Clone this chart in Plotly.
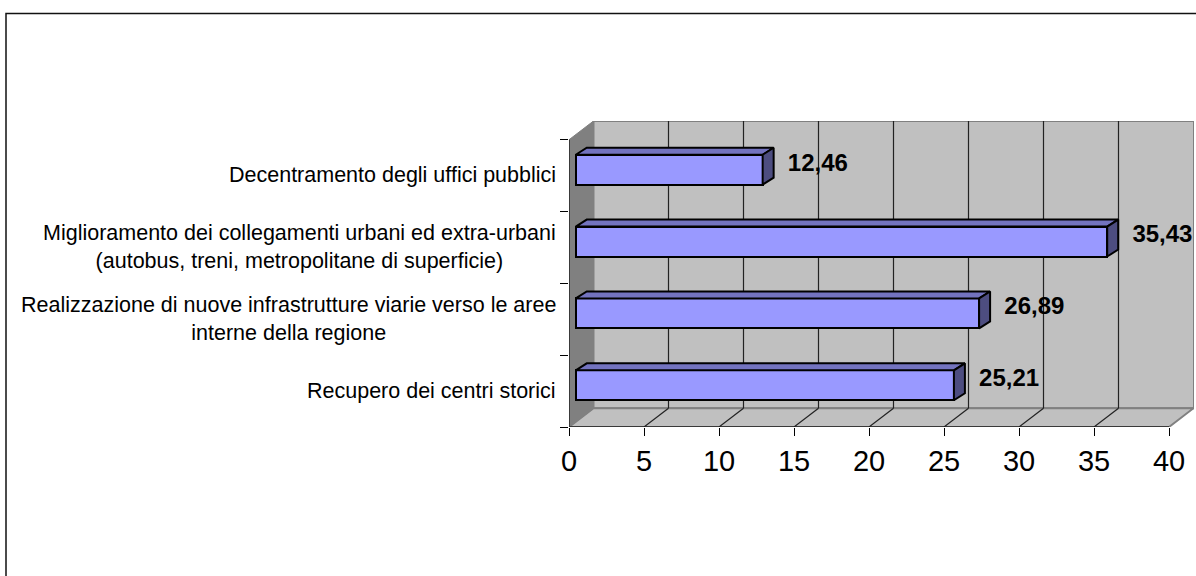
import plotly.graph_objects as go

categories = [
    "Recupero dei centri storici",
    "Realizzazione di nuove infrastrutture viarie verso le aree<br>interne della regione",
    "Miglioramento dei collegamenti urbani ed extra-urbani<br>(autobus, treni, metropolitane di superficie)",
    "Decentramento degli uffici pubblici",
]
values = [25.21, 26.89, 35.43, 12.46]
x_ticks = [0, 5, 10, 15, 20, 25, 30, 35, 40]

W, H = 1196, 576
L, R, T, B = 569, 1194, 120.7, 427.3
ux = 15.0            # px per x unit
uy = 72.0            # px per category
xtop = (R - L) / ux
ymin = -0.5
ymax = ymin + (B - T) / uy
wx, wy = 24.5 / ux, 18.8 / uy      # depth of chart walls
bx, by = 11.0 / ux, 7.0 / uy       # depth of bars
bar_start = 0.45
bar_shift = 5.8 / uy
bar_w = 30.0 / uy
idx = list(range(len(categories)))

WALL, SIDE, EDGE = "#C0C0C0", "#808080", "#808080"
FRONT, TOP, END = "#9999FF", "#7373BF", "#4D4D80"


def poly(pts):
    return "M " + " L ".join(f"{x},{y}" for x, y in pts) + " Z"


xmax = x_ticks[-1]
ytop = ymax - wy
shapes = [
    dict(type="path", layer="below", path=poly([(wx, ymin + wy), (xtop, ymin + wy), (xtop, ymax), (wx, ymax)]),
         fillcolor=WALL, line=dict(color=EDGE, width=2)),
    dict(type="path", layer="below", path=poly([(0, ymin), (xmax, ymin), (xmax + wx, ymin + wy), (wx, ymin + wy)]),
         fillcolor=WALL, line=dict(color=EDGE, width=2)),
    dict(type="path", layer="below", path=poly([(0, ymin), (wx, ymin + wy), (wx, ymax), (0, ytop)]),
         fillcolor=SIDE, line=dict(color=EDGE, width=1)),
]
for t in x_ticks[1:-1]:
    shapes.append(dict(type="line", layer="below", x0=t + wx, x1=t + wx, y0=ymin + wy, y1=ymax,
                       line=dict(color="#222222", width=1.2)))
    shapes.append(dict(type="line", layer="below", x0=t, x1=t + wx, y0=ymin, y1=ymin + wy,
                       line=dict(color="#222222", width=1.2)))
shapes += [
    dict(type="line", layer="below", x0=0, x1=0, y0=ymin, y1=ytop, line=dict(color="#222222", width=1.5)),
    dict(type="line", layer="below", x0=0, x1=xmax, y0=ymin, y1=ymin, line=dict(color="#222222", width=1.5)),
    dict(type="rect", xref="paper", yref="paper",
         x0=(6 - L) / (R - L), x1=(W + 20 - L) / (R - L),
         y0=(B - H - 20) / (B - T), y1=(B - 13) / (B - T),
         line=dict(color="#111111", width=1.5), fillcolor="rgba(0,0,0,0)", layer="below"),
]

fig = go.Figure()
fig.add_trace(go.Bar(
    y=[i + bar_shift for i in idx], x=values, base=bar_start, orientation="h", width=bar_w,
    marker=dict(color=FRONT, line=dict(color="#000000", width=2)), hoverinfo="skip", showlegend=False,
))
for i, v in zip(idx, values):
    x1 = bar_start + v
    y0 = i + bar_shift - bar_w / 2
    y1 = i + bar_shift + bar_w / 2
    fig.add_trace(go.Scatter(
        x=[bar_start, x1, x1 + bx, bar_start + bx, bar_start], y=[y1, y1, y1 + by, y1 + by, y1],
        mode="lines", fill="toself", fillcolor=TOP, line=dict(color="#000000", width=2),
        hoverinfo="skip", showlegend=False))
    fig.add_trace(go.Scatter(
        x=[x1, x1 + bx, x1 + bx, x1, x1], y=[y1, y1 + by, y0 + by, y0, y1],
        mode="lines", fill="toself", fillcolor=END, line=dict(color="#000000", width=2),
        hoverinfo="skip", showlegend=False))

fig.add_trace(go.Scatter(
    x=[v + 62 / ux for v in values], y=[i + 11 / uy for i in idx],
    text=[f"{v:.2f}".replace(".", ",") for v in values],
    mode="text", textposition="middle center",
    textfont=dict(family="Liberation Sans", size=24, color="#000000", weight="bold"),
    hoverinfo="skip", showlegend=False, cliponaxis=False,
))

annotations = [
    dict(x=0, y=i, xref="x", yref="y", text=c, showarrow=False, xanchor="right", yanchor="middle",
         xshift=-11, align="center", font=dict(family="Liberation Sans", size=21.5, color="#000000"))
    for i, c in zip(idx, categories)
]

fig.update_layout(
    width=W, height=H, autosize=False,
    margin=dict(l=L, r=W - R, t=T, b=H - B, pad=0),
    paper_bgcolor="#FFFFFF", plot_bgcolor="rgba(0,0,0,0)",
    shapes=shapes, annotations=annotations, showlegend=False, bargap=0,
    xaxis=dict(range=[0, xtop], tickvals=x_ticks, ticks="outside", ticklen=8, tickwidth=1, tickcolor="#000000",
               showgrid=False, zeroline=False, showline=False,
               tickfont=dict(family="Liberation Sans", size=29, color="#000000")),
    yaxis=dict(range=[ymin, ymax], tickvals=[i - 0.5 for i in idx] + [idx[-1] + 0.5],
               ticktext=[""] * (len(idx) + 1), ticks="outside", ticklen=8, tickwidth=1, tickcolor="#000000",
               showgrid=False, zeroline=False, showline=False),
)
fig.write_html("out.html", config={"displayModeBar": False}, post_script="document.body.style.margin='0';")
